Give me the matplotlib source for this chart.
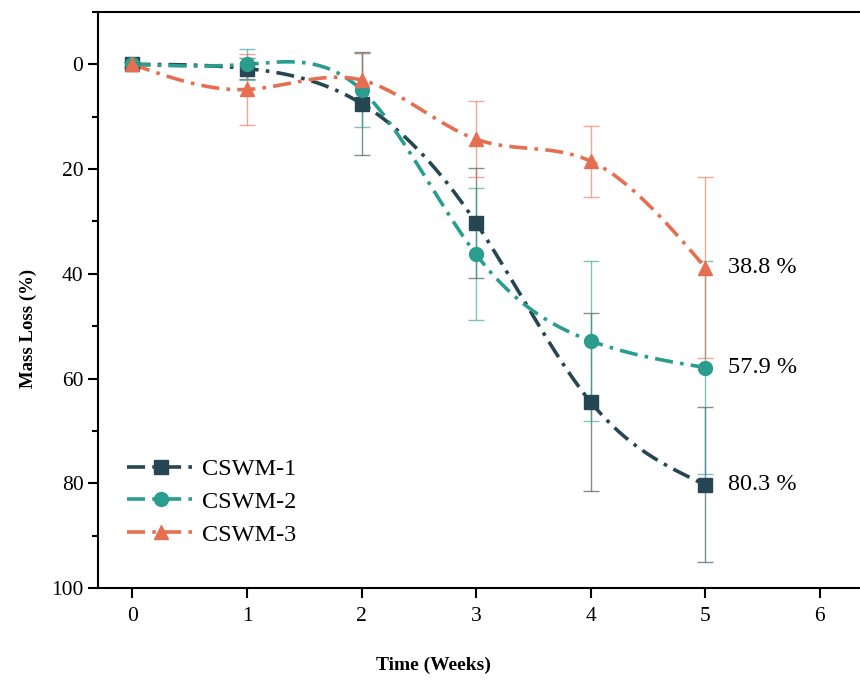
import numpy as np
import matplotlib
matplotlib.use("Agg")
import matplotlib.pyplot as plt
from matplotlib.ticker import MultipleLocator

weeks = [0, 1, 2, 3, 4, 5]
cswm1 = [0.0, 0.8, 7.5, 30.3, 64.5, 80.3]
cswm1_err = [0.5, 2.0, 9.8, 10.5, 17.0, 14.8]
cswm2 = [0.0, 0.0, 4.9, 36.3, 52.8, 57.9]
cswm2_err = [0.5, 3.0, 7.1, 12.6, 15.3, 20.3]
cswm3 = [0.0, 4.8, 3.0, 14.3, 18.5, 38.8]
cswm3_err = [0.5, 6.8, 5.1, 7.3, 6.8, 17.2]
labels = ["CSWM-1", "CSWM-2", "CSWM-3"]
end_labels = ["80.3 %", "57.9 %", "38.8 %"]
colors = ["#264653", "#2a9d8f", "#e76f51"]
markers = ["s", "o", "^"]

plt.rcParams['font.family'] = ['Liberation Serif', 'DejaVu Serif']


def natural_spline(x, y, n=300):
    x = np.asarray(x, float); y = np.asarray(y, float)
    k = len(x) - 1
    h = np.diff(x)
    A = np.zeros((k + 1, k + 1)); b = np.zeros(k + 1)
    A[0, 0] = 1; A[k, k] = 1
    for i in range(1, k):
        A[i, i - 1] = h[i - 1]; A[i, i] = 2 * (h[i - 1] + h[i]); A[i, i + 1] = h[i]
        b[i] = 3 * ((y[i + 1] - y[i]) / h[i] - (y[i] - y[i - 1]) / h[i - 1])
    c = np.linalg.solve(A, b)
    xs = np.linspace(x[0], x[-1], n)
    ys = np.empty_like(xs)
    for j, xv in enumerate(xs):
        i = min(np.searchsorted(x, xv, side='right') - 1, k - 1)
        dx = xv - x[i]
        bi = (y[i + 1] - y[i]) / h[i] - h[i] * (2 * c[i] + c[i + 1]) / 3
        di = (c[i + 1] - c[i]) / (3 * h[i])
        ys[j] = y[i] + bi * dx + c[i] * dx ** 2 + di * dx ** 3
    return xs, ys


fig = plt.figure(figsize=(8.6, 6.81), dpi=100)
ax = fig.add_axes([0.114, 0.1366, 0.886, 0.8458])

series = [(cswm1, cswm1_err), (cswm2, cswm2_err), (cswm3, cswm3_err)]
handles = []
for (vals, errs), lab, col, mk, el in zip(series, labels, colors, markers, end_labels):
    ax.errorbar(weeks, vals, yerr=errs, fmt='none', ecolor=col, elinewidth=1.0,
                capsize=6, capthick=1.0, alpha=0.6, zorder=2)
    xs, ys = natural_spline(weeks, vals)
    ax.plot(xs, ys, color=col, lw=2.6, dashes=(5, 2, 1, 2), zorder=3)
    ax.plot(weeks, vals, linestyle='none', marker=mk, color=col, markersize=10, zorder=4)
    h, = ax.plot([], [], color=col, lw=2.6, dashes=(5, 2, 1, 2), marker=mk, markersize=10, label=lab)
    handles.append(h)
    ax.text(5.2, vals[-1], el, fontsize=17.5, va='center', ha='left')

ax.set_xlim(-0.3, 6.35)
ax.set_ylim(100, -10)
ax.set_xticks(range(0, 7))
ax.set_yticks(range(0, 101, 20))
ax.yaxis.set_minor_locator(MultipleLocator(10))
ax.spines['right'].set_visible(False)
for s in ['left', 'bottom', 'top']:
    ax.spines[s].set_linewidth(1.5)
ax.tick_params(axis='both', which='major', direction='out', length=7, width=1.5, labelsize=15.5)
ax.tick_params(axis='x', which='major', pad=7)
ax.tick_params(axis='y', which='minor', direction='out', length=4.5, width=1.5)

ax.set_ylabel('Mass Loss (%)', fontsize=13.5, fontweight='bold')
ax.yaxis.set_label_coords(-0.08, 0.45)
ax.set_xlabel('Time (Weeks)', fontsize=14, fontweight='bold')
ax.xaxis.set_label_coords(0.44, -0.12)

ax.legend(handles=handles, loc='lower left', bbox_to_anchor=(0.009, 0.035), frameon=False,
          fontsize=17.5, handlelength=2.8, handletextpad=0.3, labelspacing=0.45)

fig.savefig('out.png', dpi=100)
